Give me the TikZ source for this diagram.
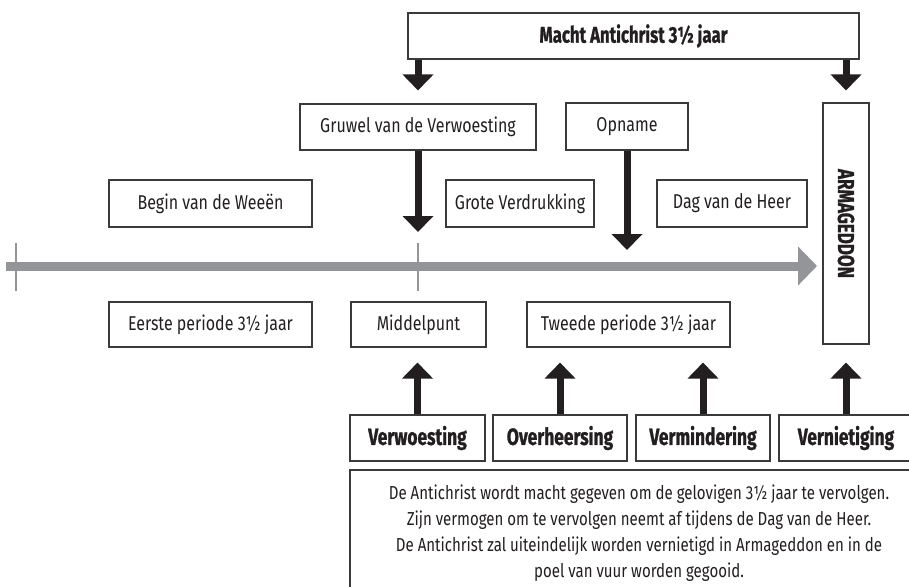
\documentclass[tikz,border=0pt]{standalone}
\usepackage{fontspec}
\setmainfont{Fira Sans}[FakeStretch=0.80]
\newfontfamily\boldcond{Fira Sans}[FakeStretch=0.74, BoldFeatures={FakeBold=1.0}]
\usetikzlibrary{arrows.meta}
\definecolor{ink}{HTML}{231F20}
\definecolor{tl}{HTML}{939598}
\definecolor{frame}{HTML}{3A3A3A}
\tikzset{
  box/.style={draw=frame, line width=1.1pt, fill=white, text=ink, minimum height=46pt, inner sep=0pt,
    font=\fontsize{20}{24}\selectfont},
  bbox/.style={box, font=\boldcond\bfseries\fontsize{23.5}{28}\selectfont},
  arr/.style={draw=ink, line width=7pt, -{Triangle[width=30pt,length=16pt]}},
  timeline/.style={draw=tl, line width=9pt, -{Triangle[width=38pt,length=19pt]}},
  tick/.style={draw=tl, line width=1.5pt}
}
\begin{document}
\begin{tikzpicture}[x=1pt,y=-1pt]
\useasboundingbox (0,0) rectangle (909,586);
\clip (0,0) rectangle (909,586);
% timeline
\coordinate (tlstart) at (6,266);
\coordinate (tlend) at (817,266);
\coordinate (t0) at (16,266);
\coordinate (t1) at (418,266);
\draw[tick] ([yshift=23pt]t0) -- ([yshift=-25pt]t0);
\draw[tick] ([yshift=23pt]t1) -- ([yshift=-25pt]t1);
\draw[timeline] (tlstart) -- (tlend);
% nodes
\node[box, minimum width=451pt, font=\boldcond\bfseries\fontsize{22.7}{27}\selectfont] (top) at (633.5,36) {Macht Antichrist 3½ jaar};
\node[box, minimum width=236pt] (gruwel) at (418,127) {Gruwel van de Verwoesting};
\node[box, minimum width=122pt, minimum height=47pt] (opname) at (627,126.5) {Opname};
\node[box, minimum width=203pt, minimum height=47pt] (begin) at (210.5,203.5) {Begin van de Weeën};
\node[box, minimum width=148pt, minimum height=47pt] (grote) at (520,203.5) {Grote Verdrukking};
\node[box, minimum width=150pt, minimum height=47pt] (dag) at (732,203.5) {Dag van de Heer};
\node[box, rotate=-90, minimum width=241pt, minimum height=46pt, font=\boldcond\bfseries\fontsize{23}{26}\selectfont] (arm) at (846,223.5) {ARMAGEDDON};
\node[box, minimum width=203pt, minimum height=45pt] (eerste) at (210.5,324.5) {Eerste periode 3½ jaar};
\node[box, minimum width=135pt, minimum height=45pt] (middel) at (418.5,324.5) {Middelpunt};
\node[box, minimum width=203pt, minimum height=45pt] (tweede) at (628.5,324.5) {Tweede periode 3½ jaar};
\node[bbox, minimum width=135pt] (verw) at (417.5,438) {Verwoesting};
\node[bbox, minimum width=134pt] (overh) at (560,438) {Overheersing};
\node[bbox, minimum width=134pt] (vermin) at (703,438) {Vermindering};
\node[bbox, minimum width=134pt] (vern) at (846,438) {Vernietiging};
\node[box, minimum width=578pt, minimum height=126pt, align=center,
  font=\fontsize{18.8}{26}\selectfont] (desc) at (639,533)
  {De Antichrist wordt macht gegeven om de gelovigen 3½ jaar te vervolgen.\\
   Zijn vermogen om te vervolgen neemt af tijdens de Dag van de Heer.\\
   De Antichrist zal uiteindelijk worden vernietigd in Armageddon en in de\\
   poel van vuur worden gegooid.};
% arrows
\coordinate (gtip) at (418,232);
\coordinate (otip) at (627,250);
\draw[arr, shorten >=13pt] (top.south -| gruwel.north) -- (gruwel.north);
\draw[arr, shorten >=12pt] (top.south -| arm.center) -- (arm.west);
\draw[arr] (gruwel.south) -- (gtip);
\draw[arr] (opname.south) -- (otip);
\draw[arr, shorten >=15pt] (verw.north) -- (verw.north |- middel.south);
\draw[arr, shorten >=15pt] (overh.north) -- (overh.north |- tweede.south);
\draw[arr, shorten >=15pt] (vermin.north) -- (vermin.north |- tweede.south);
\draw[arr, shorten >=18pt] (vern.north) -- (vern.north |- arm.east);
\end{tikzpicture}
\end{document}
